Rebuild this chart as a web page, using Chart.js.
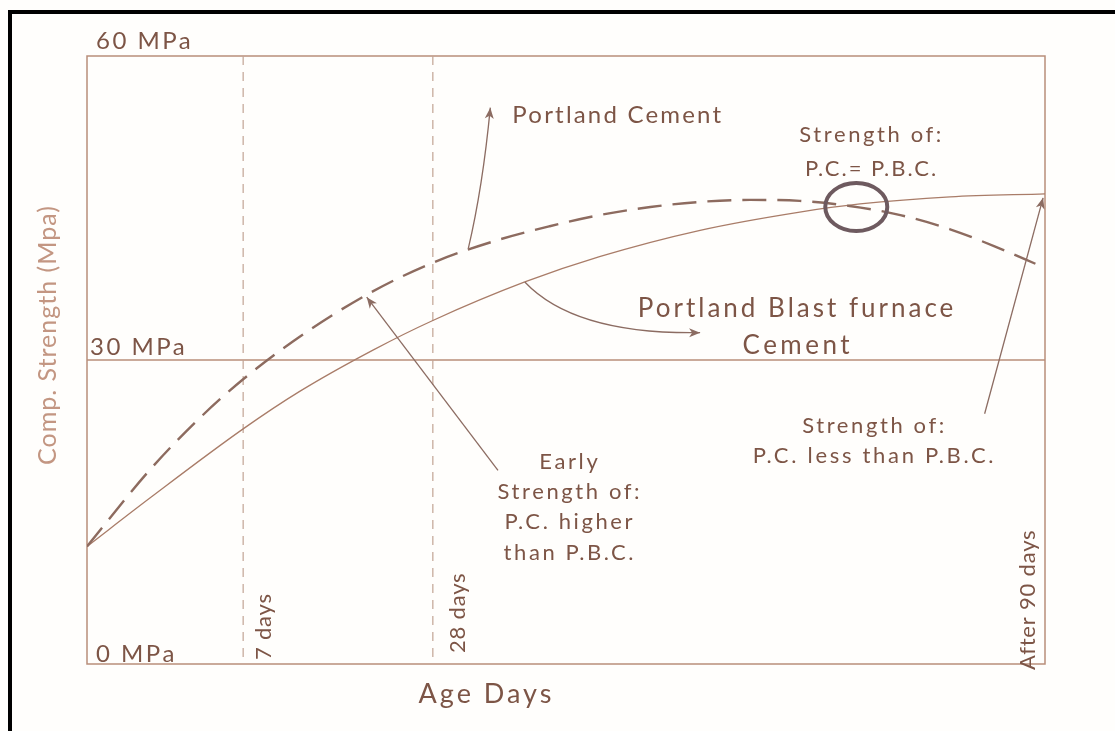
<!DOCTYPE html>
<html>
<head>
<meta charset="utf-8">
<script src="https://cdn.jsdelivr.net/npm/chart.js@4.4.0/dist/chart.umd.min.js"></script>
<style>
html, body { margin: 0; padding: 0; background: #fff; }
#wrap { position: relative; width: 1115px; height: 731px; overflow: hidden; background: #fffefc; }
#frame { position: absolute; left: 8px; top: 10px; width: 1200px; height: 800px; border-top: 4px solid #000; border-left: 4px solid #000; }
canvas { position: absolute; left: 0; top: 0; }
</style>
</head>
<body>
<div id="wrap"><div id="frame"></div><canvas id="chart" width="1115" height="731"></canvas></div>
<script>
// schematic age axis: 0 = casting, 100 = after 90 days (not to scale)
const pcAge = [0, 6.6, 11.8, 16.3, 22.2, 29.5, 36.1, 43.1, 48.3, 53.5, 58.8, 64.0, 69.2, 74.4, 79.6, 84.9, 90.1, 95.3, 99.0];
const pcStrength = [11.6, 19.2, 24.3, 28.1, 32.3, 36.6, 39.6, 41.9, 43.2, 44.3, 45.1, 45.6, 45.8, 45.7, 45.2, 44.3, 42.9, 41.0, 39.5];
const pbcAge = [0, 6.6, 16.3, 22.2, 29.9, 36.1, 45.7, 53.5, 64.0, 74.4, 80.7, 90.1, 100];
const pbcStrength = [11.6, 16.4, 23.2, 26.9, 31.0, 33.9, 37.7, 40.2, 42.8, 44.6, 45.4, 46.1, 46.4];

const strengthTicks = [0, 30, 60];
const strengthLabels = ['0 MPa', '30 MPa', '60 MPa'];
const ageTicks = [16.3, 36.1, 100];
const ageLabels = ['7 days', '28 days', 'After 90 days'];

const FONT = 'Lato, "Open Sans", sans-serif';
const ink = '#7d5546';
const lineCol = '#b98e7a';

function txt(ctx, s, x, y, size, color, align, spacing) {
    ctx.font = size + 'px ' + FONT;
    ctx.fillStyle = color;
    ctx.textAlign = align || 'left';
    ctx.textBaseline = 'middle';
    ctx.letterSpacing = (spacing || 0) + 'px';
    ctx.fillText(s, x, y);
    ctx.letterSpacing = '0px';
}

function arrowHead(ctx, x0, y0, x1, y1, color) {
    const a = Math.atan2(y1 - y0, x1 - x0);
    ctx.save();
    ctx.fillStyle = color;
    ctx.translate(x1, y1);
    ctx.rotate(a);
    ctx.beginPath();
    ctx.moveTo(0, 0);
    ctx.lineTo(-11, -4.5);
    ctx.lineTo(-8, 0);
    ctx.lineTo(-11, 4.5);
    ctx.closePath();
    ctx.fill();
    ctx.restore();
}

function arrow(ctx, x0, y0, x1, y1, color, cx, cy) {
    ctx.save();
    ctx.strokeStyle = color;
    ctx.lineWidth = 1.3;
    ctx.beginPath();
    ctx.moveTo(x0, y0);
    if (cx !== undefined) ctx.quadraticCurveTo(cx, cy, x1, y1);
    else ctx.lineTo(x1, y1);
    ctx.stroke();
    ctx.restore();
    if (cx !== undefined) arrowHead(ctx, cx, cy, x1, y1, color);
    else arrowHead(ctx, x0, y0, x1, y1, color);
}

const framePlugin = {
    id: 'frame',
    beforeDatasetsDraw(chart) {
        const ctx = chart.ctx, a = chart.chartArea;
        const xs = chart.scales.x, ys = chart.scales.y;
        ctx.save();
        ctx.strokeStyle = lineCol;
        ctx.lineWidth = 1.5;
        ctx.strokeRect(a.left, a.top, a.right - a.left, a.bottom - a.top);
        ctx.beginPath();
        ctx.moveTo(a.left, ys.getPixelForValue(strengthTicks[1]));
        ctx.lineTo(a.right, ys.getPixelForValue(strengthTicks[1]));
        ctx.stroke();
        ctx.strokeStyle = '#c2a494';
        ctx.lineWidth = 1.2;
        ctx.setLineDash([9, 7]);
        ageTicks.slice(0, 2).forEach(t => {
            const x = xs.getPixelForValue(t);
            ctx.beginPath();
            ctx.moveTo(x, a.top);
            ctx.lineTo(x, a.bottom);
            ctx.stroke();
        });
        ctx.restore();
    },
    afterDraw(chart) {
        const ctx = chart.ctx, a = chart.chartArea;
        const xs = chart.scales.x, ys = chart.scales.y;
        const X = v => xs.getPixelForValue(v), Y = v => ys.getPixelForValue(v);

        // strength labels, sitting just above their lines
        const yOff = [-10, -13, -15];
        strengthTicks.forEach((t, i) => {
            txt(ctx, strengthLabels[i], a.left + (i === 1 ? 3 : 9), Y(t) + yOff[i], 24, ink, 'left', 2.5);
        });

        // age labels, rotated
        const xOff = [21, 25, -17], yStart = [-4, -11, 6];
        ageTicks.forEach((t, i) => {
            ctx.save();
            ctx.translate(X(t) + xOff[i], a.bottom + yStart[i]);
            ctx.rotate(-Math.PI / 2);
            txt(ctx, ageLabels[i], 0, 0, 22, ink, 'left', 0.8);
            ctx.restore();
        });

        // axis titles
        ctx.save();
        ctx.translate(a.left - 39, (a.top + a.bottom) / 2 - 25);
        ctx.rotate(-Math.PI / 2);
        txt(ctx, 'Comp. Strength (Mpa)', 0, 0, 25, '#c39682', 'center', 1);
        ctx.restore();
        txt(ctx, 'Age Days', X(41.7), a.bottom + 30, 27, ink, 'center', 3);

        const arr = '#8c6c62';
        // Portland Cement
        arrow(ctx, X(39.8), Y(41.0), X(42.1), Y(54.9), arr, X(41.3), Y(47));
        txt(ctx, 'Portland Cement', X(44.4), Y(54.2), 24, ink, 'left', 2.2);

        // Portland Blast furnace Cement
        arrow(ctx, X(45.7), Y(37.7), X(64.0), Y(32.7), arr, X(50.9), Y(32.5));
        txt(ctx, 'Portland Blast furnace', X(57.5), Y(35.1), 26, ink, 'left', 3);
        txt(ctx, 'Cement', X(74.2), Y(31.4), 26, ink, 'center', 3.5);

        // equal strength
        txt(ctx, 'Strength of:', X(81.9), Y(52.2), 22, ink, 'center', 2.6);
        txt(ctx, 'P.C.= P.B.C.', X(81.9), Y(48.9), 22, ink, 'center', 2);
        ctx.save();
        ctx.strokeStyle = '#6e5a5f';
        ctx.lineWidth = 4;
        ctx.beginPath();
        ctx.ellipse(X(80.3), Y(45.1), 31, 24, 0, 0, Math.PI * 2);
        ctx.stroke();
        ctx.restore();

        // later strength
        txt(ctx, 'Strength of:', X(82.2), Y(23.5), 22, ink, 'center', 2.6);
        txt(ctx, 'P.C. less than P.B.C.', X(82.2), Y(20.5), 22, ink, 'center', 2.7);
        arrow(ctx, X(93.7), Y(24.7), X(99.8), Y(46.0), arr);

        // early strength
        const early = ['Early', 'Strength of:', 'P.C. higher', 'than P.B.C.'];
        const earlyY = [19.9, 17.0, 14.0, 11.0];
        early.forEach((s, i) => txt(ctx, s, X(50.4), Y(earlyY[i]), 22, ink, 'center', 2.6));
        arrow(ctx, X(42.9), Y(19.1), X(29.2), Y(36.2), arr);
    }
};

new Chart(document.getElementById('chart'), {
    type: 'line',
    data: {
        datasets: [
            {
                label: 'Portland Cement',
                data: pcAge.map((x, i) => ({ x: x, y: pcStrength[i] })),
                borderColor: '#8d6b5f',
                borderWidth: 2.4,
                borderDash: [24, 11],
                pointRadius: 0,
                fill: false,
                cubicInterpolationMode: 'monotone'
            },
            {
                label: 'Portland Blast furnace Cement',
                data: pbcAge.map((x, i) => ({ x: x, y: pbcStrength[i] })),
                borderColor: '#a97c68',
                borderWidth: 1.3,
                pointRadius: 0,
                fill: false,
                cubicInterpolationMode: 'monotone'
            }
        ]
    },
    options: {
        responsive: false,
        animation: false,
        layout: { padding: { left: 87, top: 56, right: 70, bottom: 67 } },
        scales: {
            x: { type: 'linear', min: 0, max: 100, display: false },
            y: { min: 0, max: 60, display: false }
        },
        plugins: {
            legend: { display: false },
            tooltip: { enabled: false }
        }
    },
    plugins: [framePlugin]
});
</script>
</body>
</html>
